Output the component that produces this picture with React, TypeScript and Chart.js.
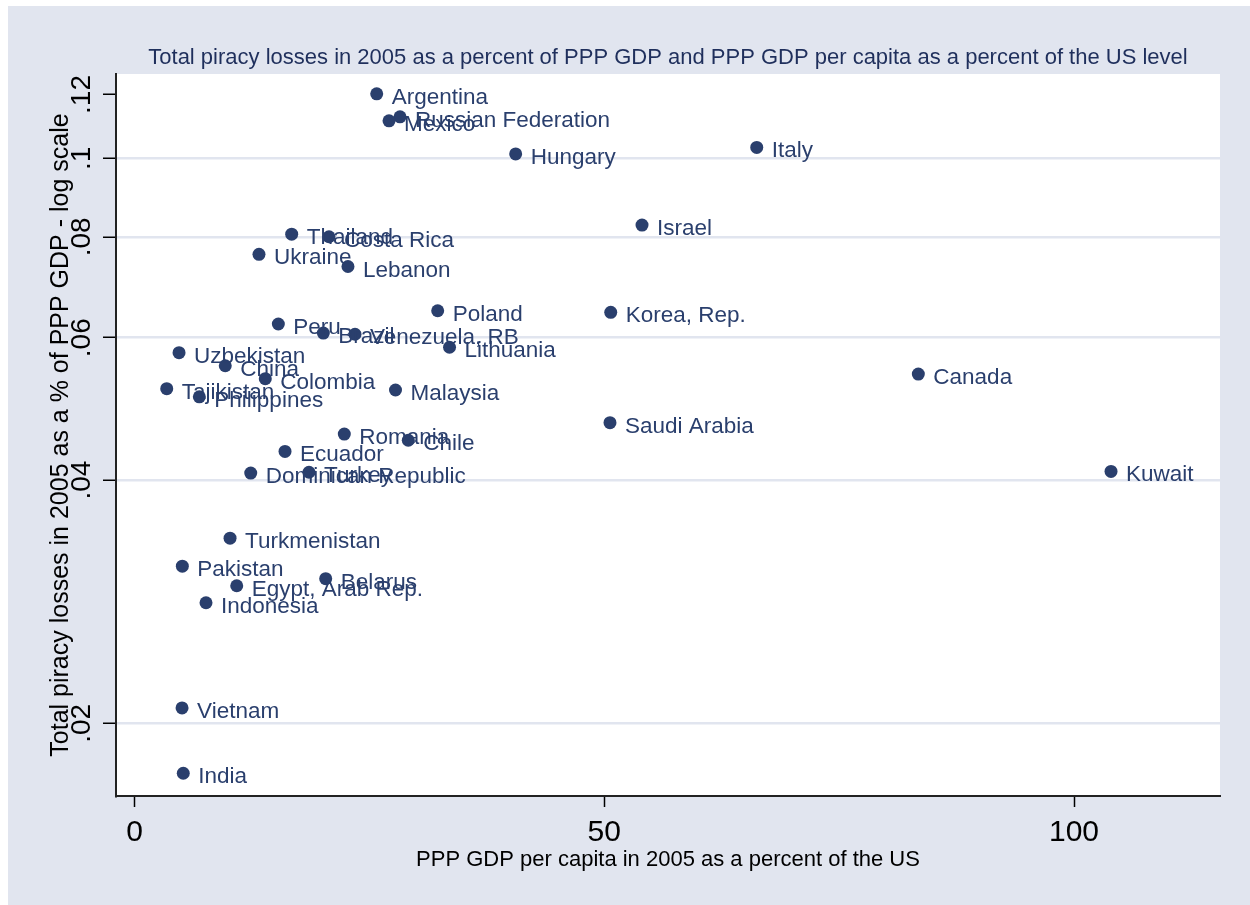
import React, { useEffect, useRef } from 'react';
import { Chart, registerables } from 'chart.js';

Chart.register(...registerables);

const countries: string[] = [
  'Argentina', 'Russian Federation', 'Mexico', 'Hungary', 'Italy', 'Israel',
  'Thailand', 'Costa Rica', 'Ukraine', 'Lebanon', 'Poland', 'Korea, Rep.',
  'Peru', 'Brazil', 'Venezuela, RB', 'Lithuania', 'Uzbekistan', 'China',
  'Colombia', 'Tajikistan', 'Philippines', 'Malaysia', 'Canada', 'Saudi Arabia',
  'Romania', 'Chile', 'Ecuador', 'Dominican Republic', 'Turkey', 'Kuwait',
  'Turkmenistan', 'Pakistan', 'Belarus', 'Egypt, Arab Rep.', 'Indonesia',
  'Vietnam', 'India',
];

// PPP GDP per capita in 2005 as a percent of the US
const gdpPerCapitaPct: number[] = [
  25.78, 28.26, 27.09, 40.57, 66.23, 54.02,
  16.73, 20.70, 13.25, 22.72, 32.27, 50.69,
  15.31, 20.10, 23.47, 33.53, 4.74, 9.66,
  13.92, 3.43, 6.90, 27.78, 83.43, 50.61,
  22.33, 29.14, 16.02, 12.37, 18.57, 103.94,
  10.17, 5.09, 20.35, 10.88, 7.61,
  5.06, 5.19,
];

// Total piracy losses in 2005 as a % of PPP GDP
const piracyLossPct: number[] = [
  0.1202, 0.1126, 0.1113, 0.1013, 0.1032, 0.0827,
  0.0806, 0.0800, 0.0761, 0.0735, 0.0648, 0.0645,
  0.0624, 0.0608, 0.0606, 0.0584, 0.0575, 0.0554,
  0.0534, 0.0519, 0.0507, 0.0517, 0.0541, 0.0471,
  0.0456, 0.0448, 0.0434, 0.0408, 0.0409, 0.0410,
  0.0339, 0.0313, 0.0302, 0.0296, 0.0282,
  0.0209, 0.01735,
];

const xTicks: number[] = [0, 50, 100];
const yTicks: number[] = [0.02, 0.04, 0.06, 0.08, 0.1, 0.12];
const yTickLabels: string[] = ['.02', '.04', '.06', '.08', '.1', '.12'];

const TITLE = 'Total piracy losses in 2005 as a percent of PPP GDP and PPP GDP per capita as a percent of the US level';
const X_TITLE = 'PPP GDP per capita in 2005 as a percent of the US';
const Y_TITLE = 'Total piracy losses in 2005 as a % of PPP GDP - log scale';

const FONT = "'Liberation Sans', Arial, Helvetica, sans-serif";
const BG = '#e1e5ef';
const GRID = '#e1e5ef';
const NAVY = '#2a3f6d';
const TITLE_COLOR = '#1f2f5c';

const bgPlugin = {
  id: 'bgPlugin',
  beforeDraw(chart: any) {
    const { ctx, chartArea, width, height } = chart;
    ctx.save();
    ctx.fillStyle = BG;
    ctx.fillRect(0, 0, width, height);
    ctx.fillStyle = '#ffffff';
    ctx.fillRect(chartArea.left, chartArea.top, chartArea.right - chartArea.left, chartArea.bottom - chartArea.top);
    ctx.restore();
  },
};

const labelPlugin = {
  id: 'pointLabels',
  afterDatasetsDraw(chart: any) {
    const ctx = chart.ctx;
    const meta = chart.getDatasetMeta(0);
    ctx.save();
    ctx.font = `22.5px ${FONT}`;
    ctx.fillStyle = NAVY;
    ctx.textAlign = 'left';
    ctx.textBaseline = 'alphabetic';
    meta.data.forEach((pt: any, i: number) => {
      ctx.fillText(countries[i], pt.x + 15, pt.y + 10);
    });
    ctx.restore();
  },
};

const yTickLabelPlugin = {
  id: 'yTickLabels',
  afterDraw(chart: any) {
    const ctx = chart.ctx;
    const ys = chart.scales.y;
    ctx.save();
    ctx.font = `28px ${FONT}`;
    ctx.fillStyle = '#000000';
    ctx.textAlign = 'center';
    ctx.textBaseline = 'alphabetic';
    ys.ticks.forEach((t: any) => {
      const idx = yTicks.indexOf(t.value);
      if (idx < 0) return;
      const py = ys.getPixelForValue(t.value);
      ctx.save();
      ctx.translate(ys.right - 26, py);
      ctx.rotate(-Math.PI / 2);
      ctx.fillText(yTickLabels[idx], 0, 0);
      ctx.restore();
    });
    ctx.restore();
  },
};

export default function App() {
  const canvasRef = useRef<HTMLCanvasElement | null>(null);

  useEffect(() => {
    if (!canvasRef.current) return;
    Chart.defaults.font.family = FONT;
    const data = countries.map((_, i) => ({ x: gdpPerCapitaPct[i], y: piracyLossPct[i] }));
    const chart = new Chart(canvasRef.current, {
      type: 'scatter',
      data: {
        datasets: [
          {
            data,
            pointRadius: 6.5,
            pointHoverRadius: 6.5,
            pointBackgroundColor: NAVY,
            pointBorderColor: NAVY,
            pointBorderWidth: 0,
          },
        ],
      },
      options: {
        animation: false,
        responsive: false,
        events: [],
        layout: { padding: { left: 0, top: 0, bottom: 0, right: 30 } },
        plugins: {
          legend: { display: false },
          tooltip: { enabled: false },
          title: {
            display: true,
            text: TITLE,
            fullSize: false,
            color: TITLE_COLOR,
            font: { size: 22, weight: 'normal', family: FONT },
            padding: { top: 39, bottom: 2.6 },
          },
        },
        scales: {
          x: {
            type: 'linear',
            position: 'bottom',
            min: -1.97,
            max: 115.54,
            afterBuildTicks: (s: any) => {
              s.ticks = xTicks.map((v) => ({ value: v }));
            },
            afterFit: (s: any) => {
              s.height = 109;
            },
            ticks: {
              color: '#000000',
              font: { size: 30, family: FONT },
              padding: 7.5,
              maxRotation: 0,
              callback: (v: any) => String(v),
            },
            grid: {
              drawOnChartArea: false,
              drawTicks: true,
              tickLength: 11,
              tickColor: '#000000',
              tickWidth: 1.5,
            },
            border: { display: true, color: '#222222', width: 2 },
            title: {
              display: true,
              text: X_TITLE,
              color: '#000000',
              font: { size: 22, family: FONT },
              padding: { top: 0, bottom: 32 },
            },
          },
          y: {
            type: 'logarithmic',
            position: 'left',
            min: 0.01626,
            max: 0.1272,
            afterBuildTicks: (s: any) => {
              s.ticks = yTicks.map((v) => ({ value: v }));
            },
            afterFit: (s: any) => {
              s.width = 108;
            },
            ticks: { display: false },
            grid: {
              drawOnChartArea: true,
              drawTicks: true,
              color: (c: any) => (c.tick && c.tick.value === 0.12 ? 'rgba(0,0,0,0)' : GRID),
              lineWidth: 2.5,
              tickLength: 13,
              tickColor: '#000000',
              tickWidth: 1.5,
            },
            border: { display: true, color: '#222222', width: 2 },
            title: {
              display: true,
              text: Y_TITLE,
              color: '#000000',
              font: { size: 25, family: FONT },
              padding: { top: 38, bottom: 0 },
            },
          },
        },
      } as any,
      plugins: [bgPlugin, labelPlugin, yTickLabelPlugin],
    });
    return () => chart.destroy();
  }, []);

  return (
    <div style={{ position: 'absolute', left: 8, top: 6, width: 1242, height: 899 }}>
      <canvas ref={canvasRef} width={1242} height={899} style={{ width: 1242, height: 899, display: 'block' }} />
    </div>
  );
}
